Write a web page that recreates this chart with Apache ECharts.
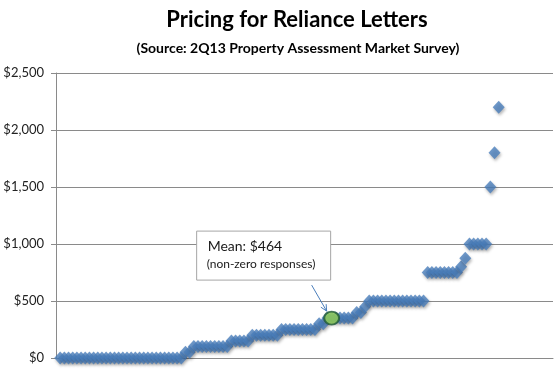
<!DOCTYPE html>
<html>
<head>
<meta charset="utf-8">
<script src="https://cdn.jsdelivr.net/npm/echarts@6/dist/echarts.min.js"></script>
<style>
html,body{margin:0;padding:0;background:#fff;}
#chart{width:560px;height:371px;}
</style>
</head>
<body>
<div id="chart"></div>
<script>
// Sorted survey responses (price in $), one per respondent, in order
var prices = [
  0,0,0,0,0,0,0,0,0,0, 0,0,0,0,0,0,0,0,0,0, 0,0,0,0,0,0,0,0,0,0,
  50,50,
  100,100,100,100,100,100,100,100,100,
  150,150,150,150,150,
  200,200,200,200,200,200,200,
  250,250,250,250,250,250,250,250,250,
  300,300,
  350,350,350,350,350,350,350,
  400,400,450,
  500,500,500,500,500,500,500,500,500,500,500,500,500,500,
  750,750,750,750,750,750,750,750,
  800,875,
  1000,1000,1000,1000,1000,
  1500,1800,2200
];
var meanRank = 66;           // position of the highlighted point
var meanLabel = ['Mean: $464', '(non-zero responses)'];
var yTicks = [0, 500, 1000, 1500, 2000, 2500];
var titleText = 'Pricing for Reliance Letters';
var subtitleText = '(Source: 2Q13 Property Assessment Market Survey)';

var pts = prices.map(function (v, i) { return [i + 1, v]; });
var chart = echarts.init(document.getElementById('chart'));
var FONT = 'Lato, "Open Sans", sans-serif';

chart.setOption({
  animation: false,
  title: [
    {text: titleText, left: 292, top: 4, textAlign: 'center',
     textStyle: {fontFamily: FONT, fontWeight: 'bold', fontSize: 22, color: '#000'}},
    {text: subtitleText, left: 293, top: 36, textAlign: 'center',
     textStyle: {fontFamily: FONT, fontWeight: 'bold', fontSize: 14, color: '#000'}}
  ],
  grid: {left: 56, right: 7, top: 73, bottom: 13, containLabel: false},
  xAxis: {
    type: 'value', min: 0, max: 119,
    axisLine: {show: true, lineStyle: {color: '#8a8a8a', width: 1}},
    axisTick: {show: false}, axisLabel: {show: false}, splitLine: {show: false}
  },
  yAxis: {
    type: 'value', min: yTicks[0], max: yTicks[yTicks.length - 1], interval: 500,
    axisLine: {show: true, lineStyle: {color: '#8a8a8a', width: 1}},
    axisTick: {show: true, length: 5, lineStyle: {color: '#8a8a8a'}},
    axisLabel: {
      margin: 12, fontFamily: FONT, fontSize: 13, color: '#222',
      formatter: function (v) { return '$' + v.toLocaleString('en-US'); }
    },
    splitLine: {show: true, lineStyle: {color: '#8a8a8a', width: 1}}
  },
  series: [
    {
      type: 'scatter', data: pts, symbol: 'diamond', symbolSize: [12, 13],
      itemStyle: {color: '#4A7EBB', shadowBlur: 3, shadowColor: 'rgba(0,0,0,0.35)',
                  shadowOffsetX: 1, shadowOffsetY: 2},
      z: 3
    },
    {
      type: 'scatter', data: [pts[meanRank - 1]], symbol: 'circle', symbolSize: [15, 13],
      itemStyle: {color: '#92D050', borderColor: '#215a38', borderWidth: 2},
      z: 5
    }
  ]
});

var p = chart.convertToPixel({xAxisIndex: 0, yAxisIndex: 0}, pts[meanRank - 1]);
var bx = p[0] - 135, by = p[1] - 87, bw = 134, bh = 49;
var ax0 = p[0] - 20, ay0 = p[1] - 33, ax1 = p[0] - 5, ay1 = p[1] - 7;
var ang = Math.atan2(ay1 - ay0, ax1 - ax0), hl = 7, ha = 0.45;
chart.setOption({
  graphic: [
    {type: 'rect', z: 10, shape: {x: bx, y: by, width: bw, height: bh},
     style: {fill: '#fff', stroke: '#a6a6a6', lineWidth: 1}},
    {type: 'text', z: 11, x: bx + 11, y: by + 8,
     style: {text: meanLabel[0], fontFamily: FONT, fontSize: 14, fill: '#1a1a1a'}},
    {type: 'text', z: 11, x: bx + 10, y: by + 27,
     style: {text: meanLabel[1], fontFamily: FONT, fontSize: 12, fill: '#1a1a1a'}},
    {type: 'line', z: 11, shape: {x1: ax0, y1: ay0, x2: ax1, y2: ay1},
     style: {stroke: '#4a7ebb', lineWidth: 1}},
    {type: 'polyline', z: 11,
     shape: {points: [
       [ax1 - hl * Math.cos(ang - ha), ay1 - hl * Math.sin(ang - ha)],
       [ax1, ay1],
       [ax1 - hl * Math.cos(ang + ha), ay1 - hl * Math.sin(ang + ha)]
     ]},
     style: {stroke: '#4a7ebb', lineWidth: 1, fill: null}}
  ]
});
</script>
</body>
</html>
